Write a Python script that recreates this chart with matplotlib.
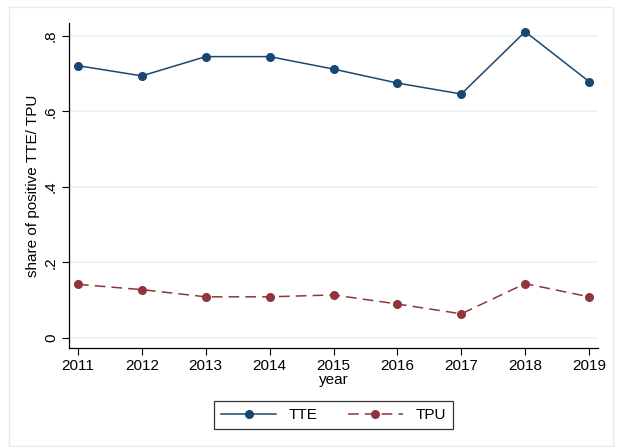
import matplotlib
matplotlib.use("Agg")
import matplotlib.pyplot as plt
from matplotlib.patches import Rectangle

plt.rcParams['font.family'] = ['Liberation Sans', 'DejaVu Sans']

years = [2011, 2012, 2013, 2014, 2015, 2016, 2017, 2018, 2019]
tte = [0.721, 0.694, 0.745, 0.745, 0.712, 0.675, 0.646, 0.811, 0.679]
tpu = [0.142, 0.128, 0.109, 0.109, 0.114, 0.090, 0.064, 0.144, 0.109]
yticks = [0, 0.2, 0.4, 0.6, 0.8]
ytick_labels = ['0', '.2', '.4', '.6', '.8']

navy = '#1a476f'
maroon = '#90353b'

fig = plt.figure(figsize=(6.2, 4.47), dpi=100)
W, H = 620, 447
# outer light frame like stata graph region
fig.patches.append(Rectangle((9 / W, 1 - 446 / H), 604 / W, 439 / H,
                             transform=fig.transFigure, fill=False,
                             edgecolor='#e6eced', linewidth=1.0))

ax = fig.add_axes([69 / W, 1 - 348 / H, 529 / W, 325 / H])
ax.plot(years, tte, color=navy, lw=1.1, marker='o', ms=5.5, label='TTE')
ax.plot(years, tpu, color=maroon, lw=1.1, ls=(0, (7, 4)), marker='o', ms=5.5,
        label='TPU')

ax.set_xlim(2010.86, 2019.14)
ax.set_ylim(-0.0265, 0.834)
ax.set_xticks(years)
ax.set_yticks(yticks)
ax.set_yticklabels(ytick_labels, rotation=90, va='center')
ax.tick_params(labelsize=11, length=5, width=0.8, direction='out', pad=3)
ax.grid(axis='y', color='#eaf2f3', lw=1.2)
ax.set_axisbelow(True)
for s in ['top', 'right']:
    ax.spines[s].set_visible(False)
for s in ['left', 'bottom']:
    ax.spines[s].set_linewidth(0.9)

ax.set_xlabel('year', fontsize=11, labelpad=0)
ax.set_ylabel('share of positive TTE/ TPU', fontsize=11, labelpad=3)

leg = ax.legend(loc='upper center', bbox_to_anchor=(0.5, -0.14), ncol=2,
                frameon=True, fancybox=False, fontsize=11, handlelength=3.6,
                columnspacing=2.0, borderpad=0.45)
leg.get_frame().set_edgecolor('black')
leg.get_frame().set_linewidth(0.9)

fig.savefig('out.png', dpi=100)
